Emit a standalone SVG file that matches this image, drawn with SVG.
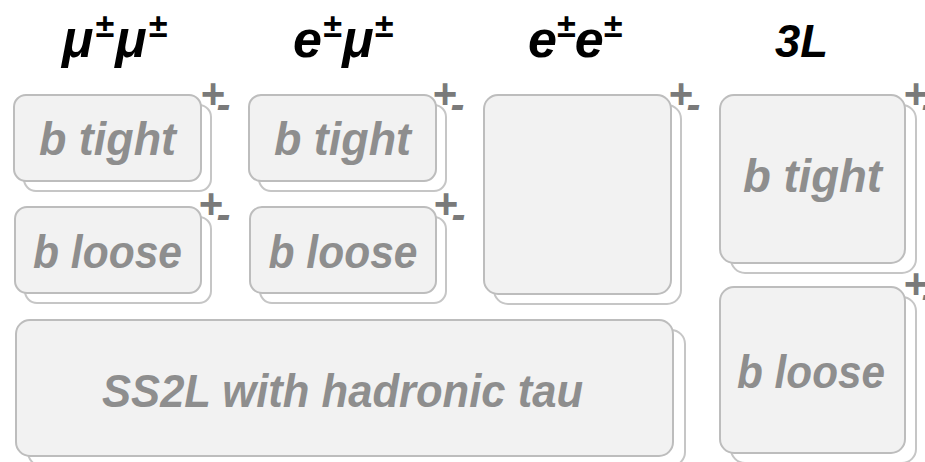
<svg xmlns="http://www.w3.org/2000/svg" width="925" height="462" viewBox="0 0 925 462">
<style>
.bk{fill:#ffffff;stroke:#c6c6c6;stroke-width:2}
.fr{fill:#f2f2f2;stroke:#bdbdbd;stroke-width:2}
.lbl{font-family:"Liberation Sans",Arial,sans-serif;font-weight:bold;font-style:italic;font-size:46px;fill:#8e8e8e;text-anchor:middle}
.hd{font-family:"Liberation Sans",Arial,sans-serif;font-weight:bold;font-style:italic;font-size:52px;fill:#000000}
.sup{font-size:34px}
.pm{font-family:"Liberation Sans",Arial,sans-serif;font-weight:bold;font-style:italic;font-size:42px;fill:#7a7a7a}
</style>
<rect width="925" height="462" fill="#ffffff"/>
<g id="headings">
  <text class="hd" x="62" y="57" textLength="105" lengthAdjust="spacing">μ<tspan class="sup" dy="-20">±</tspan><tspan dy="20">μ</tspan><tspan class="sup" dy="-20">±</tspan></text>
  <text class="hd" x="293" y="57" textLength="100" lengthAdjust="spacing">e<tspan class="sup" dy="-20">±</tspan><tspan dy="20">μ</tspan><tspan class="sup" dy="-20">±</tspan></text>
  <text class="hd" x="528" y="57" textLength="94" lengthAdjust="spacing">e<tspan class="sup" dy="-20">±</tspan><tspan dy="20">e</tspan><tspan class="sup" dy="-20">±</tspan></text>
  <text class="hd" x="775" y="57" style="font-size:46px" textLength="53" lengthAdjust="spacingAndGlyphs">3L</text>
</g>
<g id="mumu_btight">
  <rect class="bk" x="24" y="105" width="187" height="86" rx="12"/>
  <rect class="fr" x="14" y="95" width="187" height="86" rx="12"/>
  <text class="lbl" x="107.5" y="155" textLength="137" lengthAdjust="spacingAndGlyphs">b tight</text>
  <text class="pm" x="200" y="108">+<tspan dx="-8" dy="11">-</tspan></text>
</g>
<g id="emu_btight">
  <rect class="bk" x="259" y="105" width="187" height="86" rx="12"/>
  <rect class="fr" x="249" y="95" width="187" height="86" rx="12"/>
  <text class="lbl" x="342.5" y="155" textLength="137" lengthAdjust="spacingAndGlyphs">b tight</text>
  <text class="pm" x="432" y="108">+<tspan dx="-6" dy="11">-</tspan></text>
</g>
<g id="ee">
  <rect class="bk" x="494" y="105" width="187" height="199" rx="14"/>
  <rect class="fr" x="484" y="95" width="187" height="199" rx="14"/>
  <text class="pm" x="668" y="108">+<tspan dx="-6" dy="11">-</tspan></text>
</g>
<g id="mumu_bloose">
  <rect class="bk" x="25" y="217" width="186" height="86" rx="12"/>
  <rect class="fr" x="15" y="207" width="186" height="86" rx="12"/>
  <text class="lbl" x="107.5" y="268" textLength="149" lengthAdjust="spacingAndGlyphs">b loose</text>
  <text class="pm" x="198" y="218">+<tspan dx="-6" dy="11">-</tspan></text>
</g>
<g id="emu_bloose">
  <rect class="bk" x="260" y="217" width="186" height="86" rx="12"/>
  <rect class="fr" x="250" y="207" width="186" height="86" rx="12"/>
  <text class="lbl" x="343" y="268" textLength="149" lengthAdjust="spacingAndGlyphs">b loose</text>
  <text class="pm" x="433" y="218">+<tspan dx="-6" dy="11">-</tspan></text>
</g>
<g id="ss2l_tau">
  <rect class="bk" x="28" y="330" width="657" height="136" rx="14"/>
  <rect class="fr" x="16" y="320" width="657" height="136" rx="14"/>
  <text class="lbl" x="342.5" y="407" textLength="481" lengthAdjust="spacingAndGlyphs">SS2L with hadronic tau</text>
</g>
<g id="3L_btight">
  <rect class="bk" x="731" y="105" width="185" height="168" rx="14"/>
  <rect class="fr" x="720" y="95" width="185" height="168" rx="14"/>
  <text class="lbl" x="812.5" y="192" textLength="139" lengthAdjust="spacingAndGlyphs">b tight</text>
  <text class="pm" x="903" y="108">+<tspan dx="-6" dy="11">-</tspan></text>
</g>
<g id="3L_bloose">
  <rect class="bk" x="731" y="297" width="185" height="166" rx="14"/>
  <rect class="fr" x="720" y="287" width="185" height="166" rx="14"/>
  <text class="lbl" x="811" y="388" textLength="148" lengthAdjust="spacingAndGlyphs">b loose</text>
  <text class="pm" x="903" y="298">+<tspan dx="-6" dy="11">-</tspan></text>
</g>
<g id="connectors"/>
</svg>
